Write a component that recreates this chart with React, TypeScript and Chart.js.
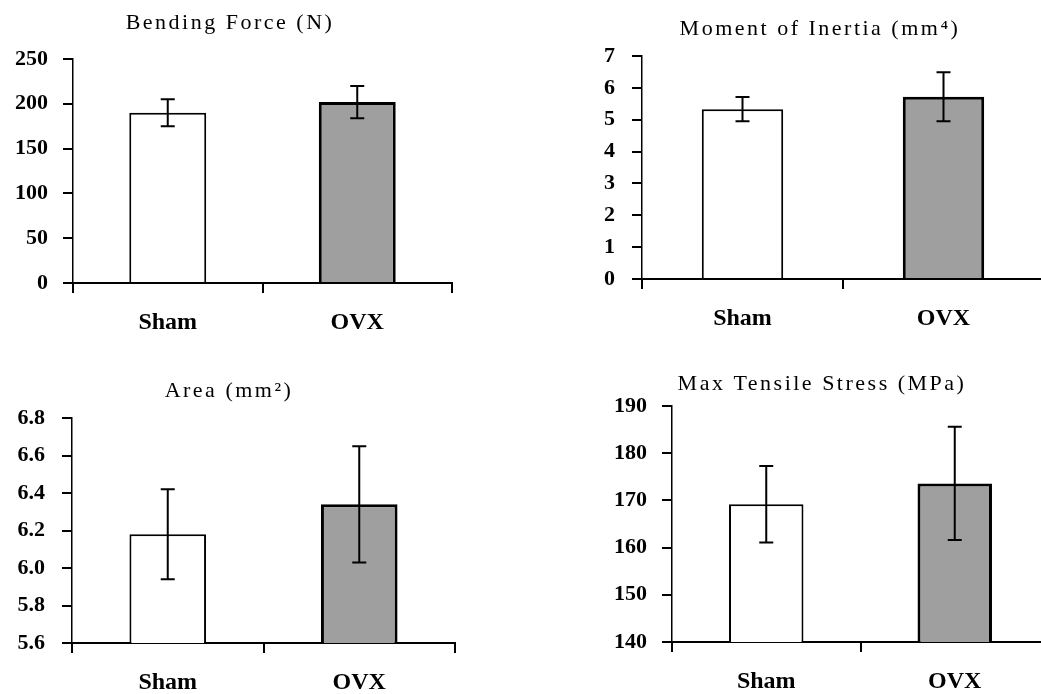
import React, { useEffect, useRef } from "react";
import { Chart, registerables } from "chart.js";

Chart.register(...registerables);

// ---------- data ----------
const groups = ["Sham", "OVX"];

const forceTitle = "Bending Force (N)";
const forceMeans = [190, 202];
const forceErrors = [15, 18];

const inertiaTitle = "Moment of Inertia (mm⁴)";
const inertiaMeans = [5.33, 5.72];
const inertiaErrors = [0.38, 0.77];

const areaTitle = "Area (mm²)";
const areaMeans = [6.18, 6.34];
const areaErrors = [0.24, 0.31];

const stressTitle = "Max Tensile Stress (MPa)";
const stressMeans = [169.2, 173.6];
const stressErrors = [8.1, 12.0];

const barColors = ["#ffffff", "#9f9f9f"];

// ---------- layout / styling ----------
const CW = 1060;
const CH = 694;
const FONT = "'Liberation Serif', 'Times New Roman', serif";

type Panel = {
  title: string;
  means: number[];
  errors: number[];
  min: number;
  max: number;
  step: number;
  decimals: number;
  pad: { left: number; right: number; top: number; bottom: number };
  titleGap: number;
  yW: number;
  xH: number;
  yPad: number;
  barPct: number;
};

const panels: Panel[] = [
  {
    title: forceTitle, means: forceMeans, errors: forceErrors,
    min: 0, max: 250, step: 50, decimals: 0,
    pad: { left: 8, right: CW - 452, top: 10, bottom: 351 },
    titleGap: 22.6, yW: 65, xH: 60, yPad: 15, barPct: 0.406,
  },
  {
    title: inertiaTitle, means: inertiaMeans, errors: inertiaErrors,
    min: 0, max: 7, step: 1, decimals: 0,
    pad: { left: 596, right: CW - 1044, top: 16, bottom: 355 },
    titleGap: 13.6, yW: 46, xH: 60, yPad: 17, barPct: 0.405,
  },
  {
    title: areaTitle, means: areaMeans, errors: areaErrors,
    min: 5.6, max: 6.8, step: 0.2, decimals: 1,
    pad: { left: 3, right: CW - 455, top: 378, bottom: 0 },
    titleGap: 13.6, yW: 69, xH: 51, yPad: 17, barPct: 0.4,
  },
  {
    title: stressTitle, means: stressMeans, errors: stressErrors,
    min: 140, max: 190, step: 10, decimals: 0,
    pad: { left: 595, right: CW - 1049, top: 371, bottom: 0 },
    titleGap: 8.6, yW: 77, xH: 52, yPad: 15, barPct: 0.395,
  },
];

const errorBarPlugin = {
  id: "errorBars",
  afterDatasetsDraw(chart: any) {
    const ctx = chart.ctx;
    const yScale = chart.scales.y;
    chart.data.datasets.forEach((ds: any, di: number) => {
      const meta = chart.getDatasetMeta(di);
      const errs: number[] = ds.errors || [];
      meta.data.forEach((bar: any, i: number) => {
        const v = ds.data[i];
        const e = errs[i];
        if (e == null) return;
        const x = bar.x;
        const yt = yScale.getPixelForValue(v + e);
        const yb = yScale.getPixelForValue(v - e);
        const cap = 7;
        ctx.save();
        ctx.strokeStyle = "#000";
        ctx.lineWidth = 2;
        ctx.beginPath();
        ctx.moveTo(x, yt);
        ctx.lineTo(x, yb);
        ctx.moveTo(x - cap, yt);
        ctx.lineTo(x + cap, yt);
        ctx.moveTo(x - cap, yb);
        ctx.lineTo(x + cap, yb);
        ctx.stroke();
        ctx.restore();
      });
    });
  },
};

const titleSpacingPlugin = {
  id: "titleSpacing",
  beforeDraw(chart: any) {
    const tb = chart.titleBlock;
    if (tb && !tb.__spaced) {
      const orig = tb.draw.bind(tb);
      tb.draw = (...args: any[]) => {
        const ctx = chart.ctx as any;
        ctx.save();
        ctx.letterSpacing = "2.5px";
        orig(...args);
        ctx.restore();
      };
      tb.__spaced = true;
    }
  },
};

function ChartPanel({ p }: { p: Panel }) {
  const ref = useRef<HTMLCanvasElement | null>(null);
  useEffect(() => {
    if (!ref.current) return;
    const chart = new Chart(ref.current, {
      type: "bar",
      data: {
        labels: groups,
        datasets: [
          {
            data: p.means,
            errors: p.errors,
            backgroundColor: barColors,
            borderColor: "#000",
            borderWidth: [2, 3],
            barPercentage: p.barPct,
            categoryPercentage: 1,
          } as any,
        ],
      },
      options: {
        responsive: false,
        animation: false,
        devicePixelRatio: 1,
        layout: { padding: p.pad },
        plugins: {
          legend: { display: false },
          tooltip: { enabled: false },
          title: {
            display: true,
            text: p.title,
            color: "#000",
            font: { family: FONT, size: 22, weight: "normal" },
            padding: { top: 0, bottom: p.titleGap },
          },
        },
        scales: {
          x: {
            offset: true,
            grid: {
              display: true,
              offset: true,
              drawOnChartArea: false,
              drawTicks: true,
              tickLength: 10,
              color: "#000",
              lineWidth: 2,
            },
            border: { display: true, color: "#000", width: 2 },
            ticks: {
              color: "#000",
              font: { family: FONT, size: 24, weight: "bold" },
              padding: 15,
            },
            afterFit: (s: any) => {
              s.height = p.xH;
            },
          },
          y: {
            min: p.min,
            max: p.max,
            grid: {
              display: true,
              drawOnChartArea: false,
              drawTicks: true,
              tickLength: 10,
              color: "#000",
              lineWidth: 2,
            },
            border: { display: true, color: "#000", width: 1.5 },
            ticks: {
              stepSize: p.step,
              color: "#000",
              font: { family: FONT, size: 22, weight: "bold" },
              padding: p.yPad,
              callback: (v: any) => Number(v).toFixed(p.decimals),
            },
            afterFit: (s: any) => {
              s.width = p.yW;
            },
          },
        },
      } as any,
      plugins: [errorBarPlugin, titleSpacingPlugin],
    });
    return () => chart.destroy();
  }, [p]);
  return (
    <canvas
      ref={ref}
      width={CW}
      height={CH}
      style={{ position: "absolute", left: 0, top: 0, width: CW, height: CH }}
    />
  );
}

export default function App() {
  return (
    <div
      style={{
        position: "fixed",
        left: 0,
        top: 0,
        width: 1041,
        height: 694,
        overflow: "hidden",
        background: "#fff",
      }}
    >
      {panels.map((p, i) => (
        <ChartPanel key={i} p={p} />
      ))}
    </div>
  );
}
